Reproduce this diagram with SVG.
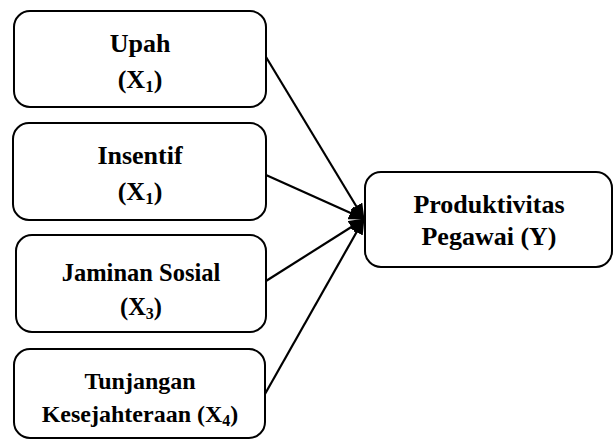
<svg xmlns="http://www.w3.org/2000/svg" width="613" height="441" viewBox="0 0 613 441">
<style>
.box{fill:#fff;stroke:#000;stroke-width:2}
.t{font-weight:bold;fill:#000;text-anchor:middle}
.c{stroke:#000;stroke-width:2.2;fill:none;marker-end:url(#ah)}
</style>
<defs>
<marker id="ah" markerUnits="userSpaceOnUse" markerWidth="16" markerHeight="14" refX="15" refY="7" orient="auto">
<path d="M0,0 L16,7 L0,14 z" fill="#000"/>
</marker>
</defs>
<g id="connectors">
<line class="c" x1="266" y1="57" x2="364" y2="219"/>
<line class="c" x1="266" y1="175" x2="364" y2="219"/>
<line class="c" x1="266" y1="281" x2="364" y2="219"/>
<line class="c" x1="265" y1="394" x2="364" y2="219"/>
</g>
<g font-family="Liberation Serif, Times New Roman, DejaVu Serif, serif">
<g id="x1">
<rect class="box" x="14" y="11" width="252" height="96" rx="16"/>
<text class="t" x="140" y="52" font-size="26">Upah</text>
<text class="t" x="140" y="88" font-size="26">(X<tspan font-size="17" dy="4">1</tspan><tspan dy="-4">)</tspan></text>
</g>
<g id="x2">
<rect class="box" x="13" y="123" width="253" height="97" rx="16"/>
<text class="t" x="140" y="164" font-size="26">Insentif</text>
<text class="t" x="140" y="200" font-size="26">(X<tspan font-size="17" dy="4">1</tspan><tspan dy="-4">)</tspan></text>
</g>
<g id="x3">
<rect class="box" x="16" y="235" width="250" height="97" rx="16"/>
<text class="t" x="141" y="281" font-size="24.5">Jaminan Sosial</text>
<text class="t" x="141" y="315" font-size="24.5">(X<tspan font-size="16" dy="4">3</tspan><tspan dy="-4">)</tspan></text>
</g>
<g id="x4">
<rect class="box" x="14" y="349" width="251" height="89" rx="16"/>
<text class="t" x="140" y="389" font-size="24">Tunjangan</text>
<text class="t" x="140" y="422" font-size="24">Kesejahteraan (X<tspan font-size="16" dy="4">4</tspan><tspan dy="-4">)</tspan></text>
</g>
<g id="y">
<rect class="box" x="365" y="172" width="247" height="95" rx="16"/>
<text class="t" x="489" y="213" font-size="26">Produktivitas</text>
<text class="t" x="489" y="245" font-size="26">Pegawai (Y)</text>
</g>
</g>
</svg>
